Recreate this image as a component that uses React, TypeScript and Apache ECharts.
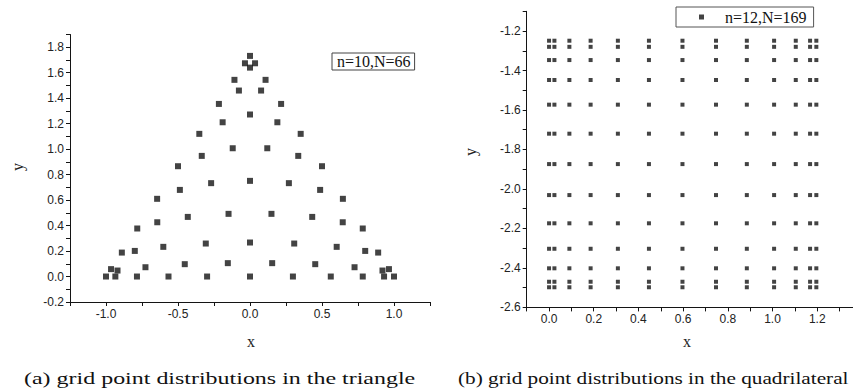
import React, { useEffect, useRef } from "react";
import * as echarts from "echarts";

// Triangle (a): n=10, N=66
const triX = [
  0, -0.035, 0.035, 0,
  -0.108, 0.108, -0.077, 0.077, -0.216, 0.216, -0.19, 0.19, 0,
  -0.352, 0.352, -0.12, 0.12, -0.335, 0.335, -0.5, 0.5, -0.27, 0.27, 0,
  -0.487, 0.487, -0.645, 0.645, -0.149, 0.149, -0.432, 0.432, -0.644, 0.644,
  -0.783, 0.783, 0, -0.307, 0.307, -0.602, 0.602, -0.8, 0.8, -0.89, 0.89,
  -0.453, 0.453, -0.154, 0.154, -0.726, 0.726, -0.965, 0.965, -0.92, 0.92,
  -1.0, -0.935, -0.785, -0.566, -0.298, 0, 0.298, 0.561, 0.783, 0.931, 1.0,
];
const triY = [
  1.732, 1.674, 1.674, 1.64,
  1.544, 1.544, 1.46, 1.46, 1.355, 1.355, 1.211, 1.211, 1.272,
  1.12, 1.12, 1.007, 1.007, 0.947, 0.947, 0.866, 0.866, 0.733, 0.733, 0.751,
  0.68, 0.68, 0.61, 0.61, 0.492, 0.492, 0.468, 0.468, 0.426, 0.426,
  0.377, 0.377, 0.267, 0.259, 0.259, 0.233, 0.233, 0.201, 0.201, 0.188, 0.188,
  0.097, 0.097, 0.105, 0.105, 0.073, 0.073, 0.058, 0.058, 0.047, 0.047,
  0, 0, 0, 0, 0, 0, 0, 0, 0, 0, 0,
];

// Quadrilateral (b): n=12, N=169 (13 x 13 grid)
const quadX = [0.0, 0.024, 0.091, 0.186, 0.308, 0.447, 0.597, 0.747, 0.885, 1.007, 1.104, 1.168, 1.196];
const quadY = [-1.249, -1.28, -1.347, -1.448, -1.573, -1.72, -1.874, -2.031, -2.174, -2.303, -2.402, -2.47, -2.498];

const nameA = "n=10,N=66";
const nameB = "n=12,N=169";
const captionA = "(a) grid point distributions in the triangle";
const captionB = "(b) grid point distributions in the quadrilateral";

const INK = "#141414";
const SANS = "'Liberation Sans', Arial, sans-serif";
const SERIF = "'Liberation Serif', 'Times New Roman', serif";

function fmtStep(step: number) {
  return (v: number) => {
    const r = v / step;
    if (Math.abs(r - Math.round(r)) > 1e-6) return "";
    if (Math.abs(v) < 1e-9) v = 0;
    return v.toFixed(1);
  };
}

function axisCommon(formatter: (v: number) => string) {
  return {
    type: "value" as const,
    axisLine: { show: true, onZero: false, lineStyle: { color: INK, width: 1 } },
    axisTick: { show: true, length: 4, lineStyle: { color: INK } },
    splitLine: { show: false },
    axisLabel: { color: "#222", fontFamily: SANS, fontSize: 12, margin: 6, formatter },
  };
}

export default function App() {
  const ref = useRef<HTMLDivElement>(null);
  useEffect(() => {
    if (!ref.current) return;
    const chart = echarts.init(ref.current, null, { renderer: "svg" });
    const triData = triX.map((x, i) => [x, triY[i]]);
    const quadData: number[][] = [];
    quadY.forEach((y) => quadX.forEach((x) => quadData.push([x, y])));

    chart.setOption({
      animation: false,
      backgroundColor: "#fff",
      grid: [
        { left: 70, top: 34.5, width: 360, height: 267.5, outerBoundsMode: "none", containLabel: false },
        { left: 526.7, top: 11.3, width: 346.4, height: 296.1, outerBoundsMode: "none", containLabel: false },
      ],
      xAxis: [
        { ...axisCommon(fmtStep(0.5)), gridIndex: 0, min: -1.25, max: 1.25, interval: 0.25 },
        { ...axisCommon(fmtStep(0.2)), gridIndex: 1, min: -0.1, max: 1.45, interval: 0.1 },
      ],
      yAxis: [
        { ...axisCommon(fmtStep(0.2)), gridIndex: 0, min: -0.2, max: 1.9, interval: 0.1 },
        { ...axisCommon(fmtStep(0.2)), gridIndex: 1, min: -2.6, max: -1.1, interval: 0.1 },
      ],
      legend: [
        {
          data: [nameA],
          left: 332,
          top: 53,
          icon: "rect",
          itemWidth: 0,
          itemHeight: 0,
          itemStyle: { opacity: 0 },
          padding: [0, 4, 1, 0],
          borderColor: "#444",
          borderWidth: 1,
          selectedMode: false,
          textStyle: { fontFamily: SERIF, fontSize: 16, color: "#111" },
        },
        {
          data: [nameB],
          left: 676,
          top: 7,
          icon: "rect",
          itemWidth: 5,
          itemHeight: 5,
          padding: [2, 7, 2, 23],
          borderColor: "#555",
          borderWidth: 1,
          selectedMode: false,
          textStyle: { fontFamily: SERIF, fontSize: 16, color: "#111", padding: [0, 0, 0, 16] },
        },
      ],
      series: [
        {
          name: nameA,
          type: "scatter",
          xAxisIndex: 0,
          yAxisIndex: 0,
          symbol: "rect",
          symbolSize: 6,
          itemStyle: { color: INK },
          data: triData,
        },
        {
          name: nameB,
          type: "scatter",
          xAxisIndex: 1,
          yAxisIndex: 1,
          symbol: "rect",
          symbolSize: 4,
          itemStyle: { color: INK },
          data: quadData,
        },
      ],
      graphic: [
        { type: "text", x: 17, y: 167, rotation: Math.PI / 2, style: { text: "y", font: `16px ${SERIF}`, fill: "#222", align: "center", verticalAlign: "middle" } },
        { type: "text", x: 470, y: 152, rotation: Math.PI / 2, style: { text: "y", font: `16px ${SERIF}`, fill: "#222", align: "center", verticalAlign: "middle" } },
        { type: "text", x: 251, y: 341, style: { text: "x", font: `16px ${SERIF}`, fill: "#222", align: "center", verticalAlign: "middle" } },
        { type: "text", x: 687, y: 341, style: { text: "x", font: `16px ${SERIF}`, fill: "#222", align: "center", verticalAlign: "middle" } },
        { type: "text", x: 24, y: 378, scaleX: 1.41, style: { text: captionA, font: `17px ${SERIF}`, fill: "#111", align: "left", verticalAlign: "middle" } },
        { type: "text", x: 458, y: 378, scaleX: 1.25, style: { text: captionB, font: `17px ${SERIF}`, fill: "#111", align: "left", verticalAlign: "middle" } },
      ],
    });
    return () => chart.dispose();
  }, []);
  return (
    <div
      ref={ref}
      style={{ position: "fixed", left: 0, top: 0, width: 853, height: 390, background: "#fff" }}
    />
  );
}
